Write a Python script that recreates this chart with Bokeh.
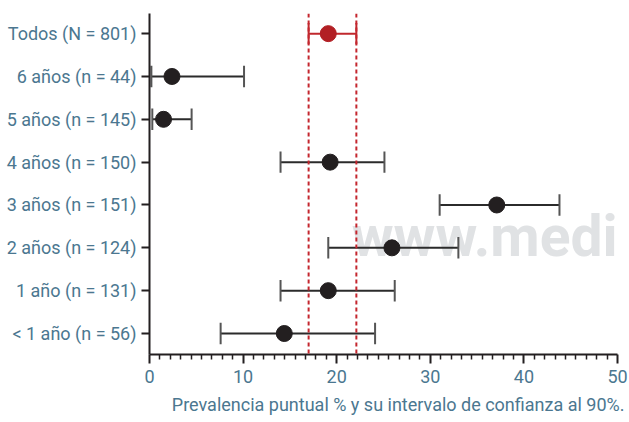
from bokeh.plotting import figure
from bokeh.models import Range1d, FixedTicker, Span, Label, Title
from bokeh.embed import file_html
from bokeh.resources import INLINE

categories = ["< 1 año (n = 56)", "1 año (n = 131)", "2 años (n = 124)", "3 años (n = 151)",
              "4 años (n = 150)", "5 años (n = 145)", "6 años (n = 44)", "Todos (N = 801)"]
prevalence = [14.4, 19.1, 25.9, 37.1, 19.3, 1.5, 2.4, 19.1]
ci_low = [7.6, 14.0, 19.1, 31.0, 14.0, 0.3, 0.2, 17.0]
ci_high = [24.1, 26.2, 33.0, 43.8, 25.1, 4.5, 10.1, 22.1]
ref_lines = [17.0, 22.1]
x_ticks = [0, 10, 20, 30, 40, 50]
x_label = "Prevalencia puntual % y su intervalo de confianza al 90%."
watermark = "www.medigraphic.org.mx"

FONT = "Roboto"
LABEL_COLOR = "#4b7790"
AXIS_COLOR = "#231f20"

ypos = list(range(len(categories)))
n = len(categories)

p = figure(width=629, height=420, output_backend="svg", toolbar_location=None,
           x_range=Range1d(0, 50), y_range=Range1d(-0.49, n - 1 + 0.47),
           min_border_left=149, min_border_right=12, min_border_top=13, min_border_bottom=66)
p.outline_line_color = None
p.grid.visible = False
p.background_fill_color = "white"
p.border_fill_color = "white"

# watermark behind everything
wm = Label(x=21.6, y=2.26, text=watermark, text_font=FONT, text_font_style="bold",
           text_font_size="57px", text_color="#e0e2e4", text_baseline="alphabetic",
           level="underlay")
p.add_layout(wm)

black_idx = [i for i in range(n) if i != n - 1]
red_idx = [n - 1]

def draw(idx, line_col, cap_col, dot_col):
    ys = [ypos[i] for i in idx]
    lo = [ci_low[i] for i in idx]
    hi = [ci_high[i] for i in idx]
    pv = [prevalence[i] for i in idx]
    p.segment(x0=lo, y0=ys, x1=hi, y1=ys, line_color=line_col, line_width=2)
    p.segment(x0=lo, y0=[y - 0.25 for y in ys], x1=lo, y1=[y + 0.25 for y in ys],
              line_color=cap_col, line_width=2)
    p.segment(x0=hi, y0=[y - 0.25 for y in ys], x1=hi, y1=[y + 0.25 for y in ys],
              line_color=cap_col, line_width=2)
    p.scatter(x=pv, y=ys, size=16, fill_color=dot_col, line_color=dot_col)

draw(black_idx, "#2b2b2b", "#555555", "#231f20")
draw(red_idx, "#c0282d", "#c0282d", "#b21f24")

for loc in ref_lines:
    p.add_layout(Span(location=loc, dimension="height", line_color="#c4262e",
                      line_dash="4 3", line_width=2))

# x axis
xa = p.xaxis[0]
xa.ticker = FixedTicker(ticks=x_ticks, minor_ticks=[t + k * 10 / 9 for t in x_ticks[:-1] for k in range(1, 9)])
xa.axis_line_color = AXIS_COLOR
xa.axis_line_width = 2
xa.major_tick_line_color = AXIS_COLOR
xa.major_tick_line_width = 2
xa.major_tick_out = 9
xa.major_tick_in = 0
xa.minor_tick_line_color = AXIS_COLOR
xa.minor_tick_line_width = 1.5
xa.minor_tick_out = 5
xa.minor_tick_in = 0
xa.major_label_text_font = FONT
xa.major_label_text_font_size = "18px"
xa.major_label_text_color = LABEL_COLOR
xa.major_label_standoff = 6

# y axis
ya = p.yaxis[0]
ya.ticker = FixedTicker(ticks=ypos)
ya.major_label_overrides = {i: c for i, c in zip(ypos, categories)}
ya.axis_line_color = AXIS_COLOR
ya.axis_line_width = 2
ya.major_tick_line_color = AXIS_COLOR
ya.major_tick_line_width = 2
ya.major_tick_out = 8
ya.major_tick_in = 0
ya.minor_tick_line_color = None
ya.major_label_text_font = FONT
ya.major_label_text_font_size = "18px"
ya.major_label_text_color = LABEL_COLOR
ya.major_label_standoff = 5

t = Title(text=x_label, align="right", offset=-7, text_font=FONT, text_font_size="18px",
          text_font_style="normal", text_color=LABEL_COLOR, standoff=12)
p.add_layout(t, "below")

open("out.html", "w").write(file_html(p, INLINE))
